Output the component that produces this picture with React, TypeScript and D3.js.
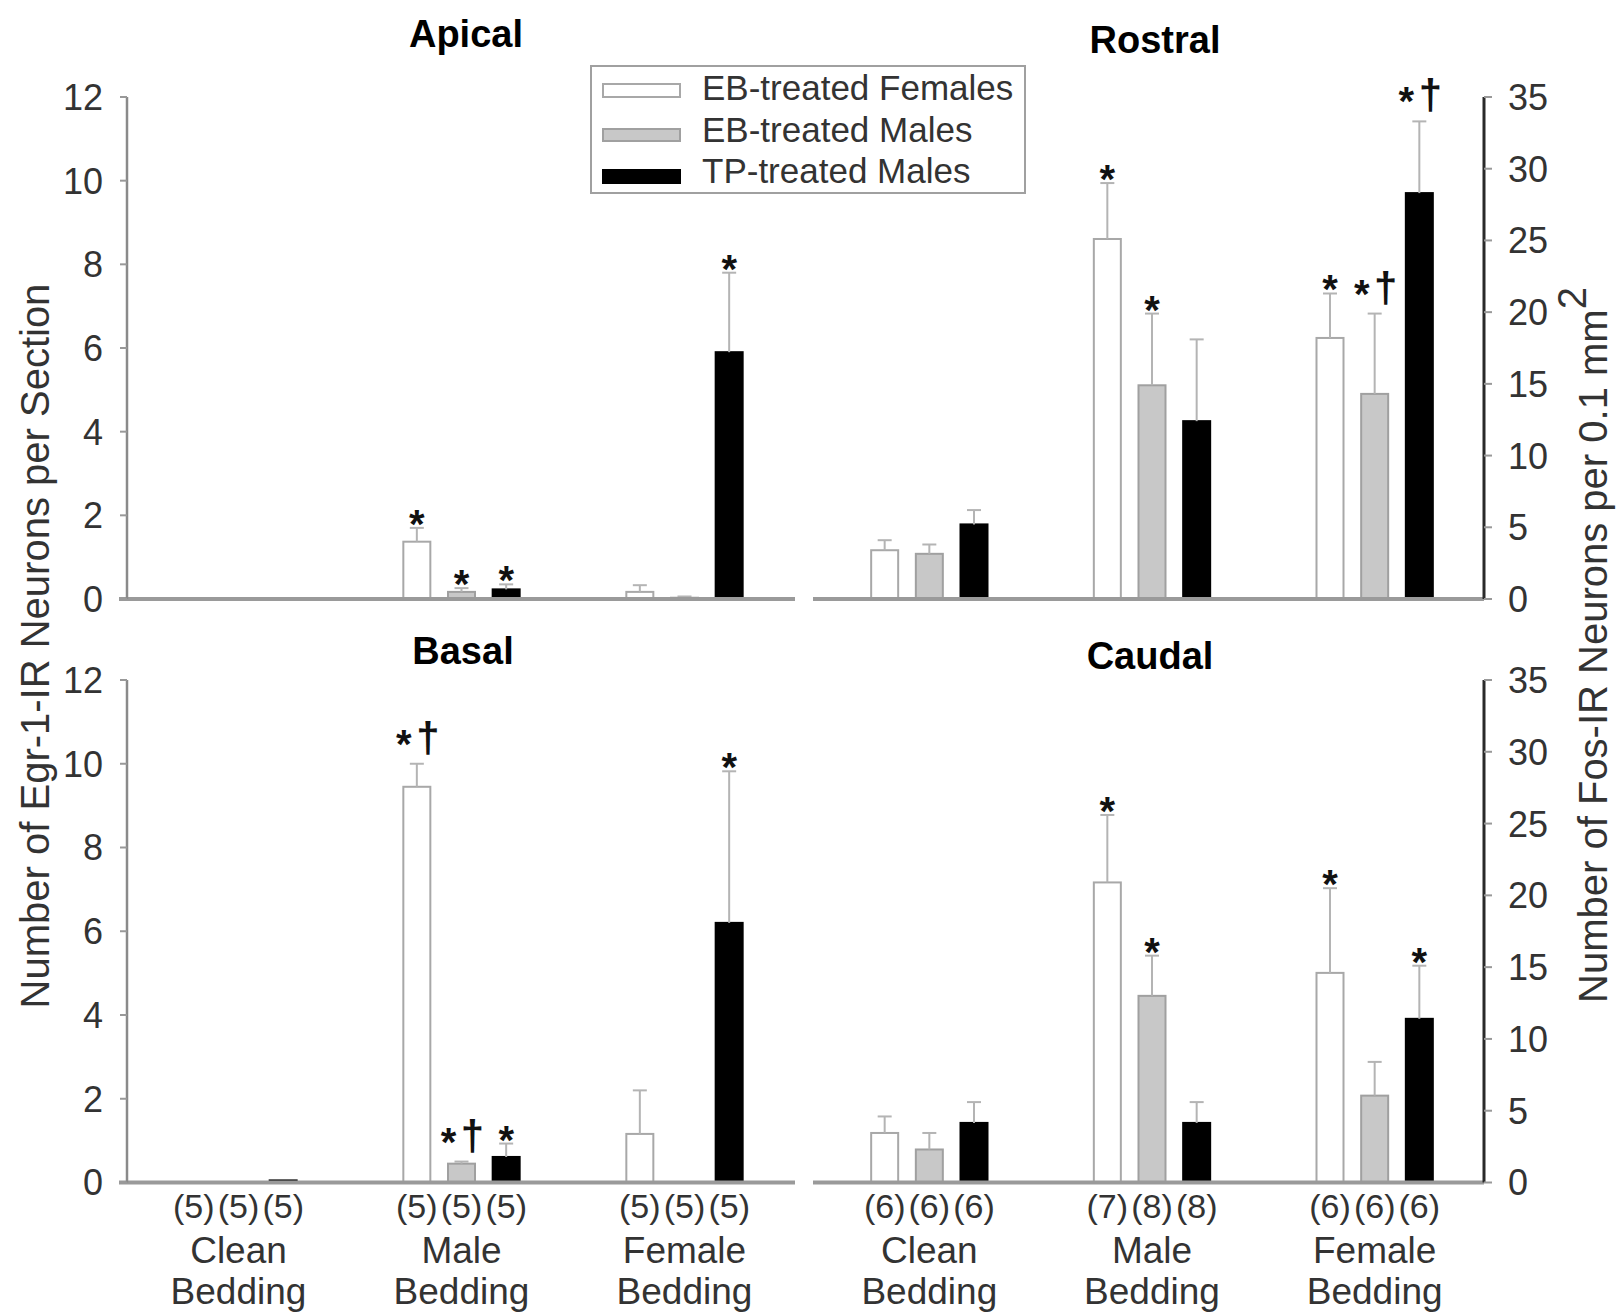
import React from "react";
import * as d3 from "d3";

// ---------- data ----------
const groups = ["Clean", "Male", "Female"];
const groupLine2 = "Bedding";
const seriesNames = ["EB-treated Females", "EB-treated Males", "TP-treated Males"];

const apicalMeans = [0.02, 0.02, 0.02, 1.37, 0.17, 0.23, 0.17, 0.03, 5.9];
const apicalSems = [0, 0, 0, 0.33, 0.09, 0.12, 0.16, 0.03, 1.9];
const apicalMarks = ["", "", "", "*", "*", "*", "", "", "*"];

const rostralMeans = [3.4, 3.15, 5.2, 25.1, 14.9, 12.4, 18.2, 14.3, 28.3];
const rostralSems = [0.7, 0.65, 1.0, 3.9, 5.0, 5.7, 3.1, 5.6, 5.0];
const rostralMarks = ["", "", "", "*", "*", "", "*", "*†", "*†"];

const basalMeans = [0, 0, 0.05, 9.45, 0.45, 0.61, 1.16, 0, 6.2];
const basalSems = [0, 0, 0, 0.55, 0.05, 0.32, 1.04, 0, 3.62];
const basalMarks = ["", "", "", "*†", "*†", "*", "", "", "*"];

const caudalMeans = [3.45, 2.3, 4.15, 20.9, 13.0, 4.15, 14.6, 6.05, 11.4];
const caudalSems = [1.15, 1.15, 1.45, 4.7, 2.8, 1.45, 5.9, 2.35, 3.7];
const caudalMarks = ["", "", "", "*", "*", "", "*", "", "*"];

const leftN = [5, 5, 5, 5, 5, 5, 5, 5, 5];
const rightN = [6, 6, 6, 7, 8, 8, 6, 6, 6];

const leftTicks = [0, 2, 4, 6, 8, 10, 12];
const rightTicks = [0, 5, 10, 15, 20, 25, 30, 35];

// ---------- styles ----------
const FONT = "'Liberation Sans', Arial, Helvetica, sans-serif";
const fills = ["#ffffff", "#c8c8c8", "#000000"];
const strokes = ["#a8a8a8", "#a0a0a0", "#000000"];
const TXT = "#333";

type Side = "left" | "right";
interface PanelDef {
  title: string;
  means: number[];
  sems: number[];
  marks: string[];
  side: Side;
  row: 0 | 1;
  yMax: number;
  ticks: number[];
  titleX: number;
  titleY: number;
  n?: number[];
}

const panels: PanelDef[] = [
  { title: "Apical", means: apicalMeans, sems: apicalSems, marks: apicalMarks, side: "left", row: 0, yMax: 12, ticks: leftTicks, titleX: 466, titleY: 47 },
  { title: "Rostral", means: rostralMeans, sems: rostralSems, marks: rostralMarks, side: "right", row: 0, yMax: 35, ticks: rightTicks, titleX: 1155, titleY: 53 },
  { title: "Basal", means: basalMeans, sems: basalSems, marks: basalMarks, side: "left", row: 1, yMax: 12, ticks: leftTicks, titleX: 463, titleY: 664, n: leftN },
  { title: "Caudal", means: caudalMeans, sems: caudalSems, marks: caudalMarks, side: "right", row: 1, yMax: 35, ticks: rightTicks, titleX: 1150, titleY: 669, n: rightN },
];

const rowY = [
  { y0: 599, top: 97 },
  { y0: 1182.5, top: 680 },
];
const sideX = {
  left: { range: [127, 796], axisX: 127, lineFrom: 119, lineTo: 795 },
  right: { range: [818, 1486], axisX: 1484, lineFrom: 813, lineTo: 1484 },
};

const BW = 27;

function Panel({ p }: { p: PanelDef }) {
  const sx = sideX[p.side];
  const ry = rowY[p.row];
  const xG = d3.scaleBand<string>().domain(groups).range(sx.range as [number, number]).padding(0);
  const xS = d3.scaleBand<string>().domain(seriesNames).range([-67, 67]).padding(0);
  const y = d3.scaleLinear().domain([0, p.yMax]).range([ry.y0, ry.top]);

  const items = p.means.map((m, i) => {
    const g = groups[Math.floor(i / 3)];
    const s = seriesNames[i % 3];
    const cx = (xG(g) as number) + xG.bandwidth() / 2 + (xS(s) as number) + xS.bandwidth() / 2;
    return { i, m, sem: p.sems[i], mark: p.marks[i], cx, si: i % 3 };
  });

  return (
    <g>
      <text x={p.titleX} y={p.titleY} textAnchor="middle" fontFamily={FONT} fontWeight="bold" fontSize={38} fill="#000">
        {p.title}
      </text>
      {/* bars */}
      {items.map((d) => {
        const top = y(d.m);
        const h = ry.y0 - top;
        return (
          <rect key={"b" + d.i} x={d.cx - BW / 2} y={top} width={BW} height={Math.max(h, 0)}
            fill={fills[d.si]} stroke={strokes[d.si]} strokeWidth={2} />
        );
      })}
      {/* error bars */}
      {items.filter((d) => d.sem > 0).map((d) => {
        const t = y(d.m + d.sem);
        return (
          <g key={"e" + d.i} stroke="#b4b4b4" strokeWidth={2}>
            <line x1={d.cx} x2={d.cx} y1={y(d.m)} y2={t} />
            <line x1={d.cx - 7} x2={d.cx + 7} y1={t} y2={t} />
          </g>
        );
      })}
      {/* significance marks */}
      {items.filter((d) => d.mark).map((d) => {
        const t = y(d.m + d.sem);
        if (d.mark === "*") {
          return (
            <text key={"m" + d.i} x={d.cx} y={t + 10} textAnchor="middle" fontFamily={FONT} fontWeight="bold" fontSize={40} fill="#111">*</text>
          );
        }
        return (
          <g key={"m" + d.i} fontFamily={FONT} fill="#111" fontWeight="bold">
            <text x={d.cx - 13} y={t - 6} textAnchor="middle" fontSize={40}>*</text>
            <text x={d.cx + 11} y={t - 12} textAnchor="middle" fontSize={42}>†</text>
          </g>
        );
      })}
      {/* x axis line */}
      <line x1={sx.lineFrom} x2={sx.lineTo} y1={ry.y0} y2={ry.y0} stroke="#9a9a9a" strokeWidth={4} />
      {/* y axis */}
      {p.side === "left" ? (
        <g>
          <line x1={sx.axisX} x2={sx.axisX} y1={ry.top} y2={ry.y0} stroke="#8a8a8a" strokeWidth={2.5} />
          {p.ticks.map((t) => (
            <g key={"t" + t}>
              <line x1={sx.axisX - 7} x2={sx.axisX} y1={y(t)} y2={y(t)} stroke="#999" strokeWidth={2} />
              <text x={103} y={y(t)} dy="0.36em" textAnchor="end" fontFamily={FONT} fontSize={36} fill={TXT}>{t}</text>
            </g>
          ))}
        </g>
      ) : (
        <g>
          <line x1={sx.axisX} x2={sx.axisX} y1={ry.top} y2={ry.y0} stroke="#2a2a2a" strokeWidth={3} />
          {p.ticks.map((t) => (
            <g key={"t" + t}>
              <line x1={sx.axisX} x2={sx.axisX + 8} y1={y(t)} y2={y(t)} stroke="#999" strokeWidth={2} />
              <text x={1508} y={y(t)} dy="0.36em" textAnchor="start" fontFamily={FONT} fontSize={36} fill={TXT}>{t}</text>
            </g>
          ))}
        </g>
      )}
      {/* sample sizes and category labels */}
      {p.n && items.map((d) => (
        <text key={"n" + d.i} x={d.cx} y={1218} textAnchor="middle" fontFamily={FONT} fontSize={34} fill={TXT}>
          ({p.n![d.i]})
        </text>
      ))}
      {p.n && groups.map((g) => {
        const cx = (xG(g) as number) + xG.bandwidth() / 2;
        return (
          <g key={"g" + g} fontFamily={FONT} fontSize={37} fill={TXT} textAnchor="middle">
            <text x={cx} y={1263}>{g}</text>
            <text x={cx} y={1304}>{groupLine2}</text>
          </g>
        );
      })}
    </g>
  );
}

function Legend() {
  const rows = [
    { sy: 84, h: 13, ty: 100 },
    { sy: 129, h: 12, ty: 142 },
    { sy: 170, h: 13, ty: 183 },
  ];
  return (
    <g>
      <rect x={591} y={66} width={434} height={127} fill="#fff" stroke="#a0a0a0" strokeWidth={2} />
      {seriesNames.map((s, i) => (
        <g key={s}>
          <rect x={603} y={rows[i].sy} width={77} height={rows[i].h} fill={fills[i]} stroke={strokes[i]} strokeWidth={2} />
          <text x={702} y={rows[i].ty} fontFamily={FONT} fontSize={35} fill={TXT}>{s}</text>
        </g>
      ))}
    </g>
  );
}

export default function App() {
  return (
    <svg width={1616} height={1315} viewBox="0 0 1616 1315"
      style={{ position: "absolute", left: 0, top: 0, background: "#fff" }}>
      <rect x={0} y={0} width={1616} height={1315} fill="#fff" />
      {panels.map((p) => <Panel key={p.title} p={p} />)}
      <Legend />
      <text transform="translate(49,646) rotate(-90)" textAnchor="middle" fontFamily={FONT} fontSize={40} fill={TXT}>
        Number of Egr-1-IR Neurons per Section
      </text>
      <text transform="translate(1607,645) rotate(-90)" textAnchor="middle" fontFamily={FONT} fontSize={40} fill={TXT}>
        Number of Fos-IR Neurons per 0.1 mm<tspan dy={-21}>2</tspan>
      </text>
    </svg>
  );
}
